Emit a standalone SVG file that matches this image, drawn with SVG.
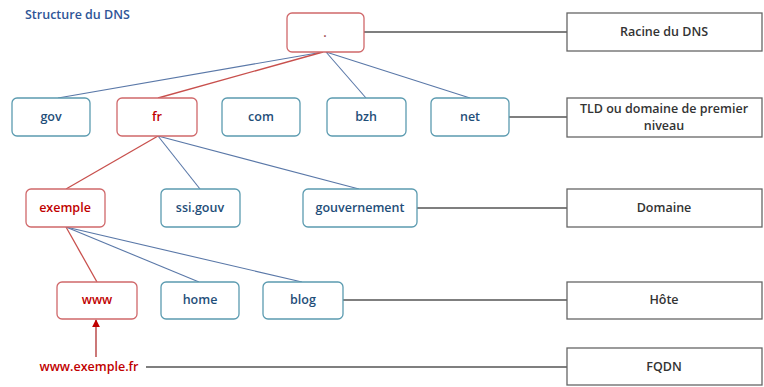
<svg xmlns="http://www.w3.org/2000/svg" width="764" height="387" viewBox="0 0 764 387">
<defs>
<style>
.nb{fill:#fff;stroke:#5b9bb0;stroke-width:1.3}
.nr{fill:#fff;stroke:#d0686a;stroke-width:1.3}
.lb{fill:#fff;stroke:#666;stroke-width:1.3}
.tb{font-family:"Open Sans","Liberation Sans",sans-serif;font-size:12.5px;font-weight:600;fill:#1f4e79;text-anchor:middle}
.tr{font-family:"Open Sans","Liberation Sans",sans-serif;font-size:12.5px;font-weight:600;fill:#c00000;text-anchor:middle}
.tl{font-family:"Open Sans","Liberation Sans",sans-serif;font-size:12.5px;font-weight:600;fill:#333;text-anchor:middle}
.cb{stroke:#5a78a8;stroke-width:1.1;fill:none}
.cr{stroke:#c8504d;stroke-width:1.3;fill:none}
.cg{stroke:#555;stroke-width:1.4;fill:none}
</style>
<marker id="ar" viewBox="0 0 10 10" refX="9" refY="5" markerWidth="6" markerHeight="6" orient="auto-start-reverse">
<path d="M0,0 L10,5 L0,10 z" fill="#c00000"/>
</marker>
</defs>
<rect width="764" height="387" fill="#fff"/>
<text x="25" y="19" font-family="'Open Sans','Liberation Sans',sans-serif" font-size="12.5" font-weight="600" fill="#2f5597">Structure du DNS</text>
<g id="connectors">
<line class="cg" x1="364" y1="32" x2="567" y2="32"/>
<line class="cg" x1="509" y1="117" x2="567" y2="117"/>
<line class="cg" x1="417" y1="208" x2="567" y2="208"/>
<line class="cg" x1="343" y1="300" x2="567" y2="300"/>
<line class="cg" x1="146" y1="367" x2="567" y2="367"/>
<line class="cb" x1="323" y1="52" x2="58" y2="98"/>
<line class="cr" x1="323" y1="52" x2="158" y2="98"/>
<line class="cb" x1="326" y1="52" x2="366" y2="98"/>
<line class="cb" x1="326" y1="52" x2="470" y2="98"/>
<line class="cr" x1="158" y1="136" x2="66" y2="189"/>
<line class="cb" x1="158" y1="136" x2="200" y2="189"/>
<line class="cb" x1="158" y1="136" x2="359" y2="189"/>
<line class="cr" x1="66" y1="227" x2="97" y2="282"/>
<line class="cb" x1="66" y1="227" x2="199" y2="282"/>
<line class="cb" x1="66" y1="227" x2="302" y2="282"/>
<line x1="96" y1="357" x2="96" y2="320" stroke="#b03030" stroke-width="1.3" marker-end="url(#ar)"/>
</g>
<g id="root"><rect class="nr" x="287" y="13" width="77" height="39" rx="5"/><text class="tr" x="325" y="37" style="fill:#a05050">.</text></g>
<g id="gov"><rect class="nb" x="12" y="98" width="78" height="38" rx="5"/><text class="tb" x="51" y="121">gov</text></g>
<g id="fr"><rect class="nr" x="117" y="98" width="80" height="38" rx="5"/><text class="tr" x="157" y="121">fr</text></g>
<g id="com"><rect class="nb" x="222" y="98" width="78" height="38" rx="5"/><text class="tb" x="261" y="121">com</text></g>
<g id="bzh"><rect class="nb" x="327" y="98" width="79" height="38" rx="5"/><text class="tb" x="366" y="121">bzh</text></g>
<g id="net"><rect class="nb" x="431" y="98" width="78" height="38" rx="5"/><text class="tb" x="470" y="121">net</text></g>
<g id="exemple"><rect class="nr" x="26" y="189" width="79" height="38" rx="5"/><text class="tr" x="65" y="212">exemple</text></g>
<g id="ssigouv"><rect class="nb" x="161" y="189" width="79" height="38" rx="5"/><text class="tb" x="200" y="212">ssi.gouv</text></g>
<g id="gouvernement"><rect class="nb" x="303" y="189" width="114" height="38" rx="5"/><text class="tb" x="360" y="212">gouvernement</text></g>
<g id="www"><rect class="nr" x="57" y="282" width="80" height="37" rx="5"/><text class="tr" x="97" y="304">www</text></g>
<g id="home"><rect class="nb" x="161" y="282" width="78" height="37" rx="5"/><text class="tb" x="200" y="304">home</text></g>
<g id="blog"><rect class="nb" x="263" y="282" width="80" height="37" rx="5"/><text class="tb" x="303" y="304">blog</text></g>
<g id="fqdn-text"><text class="tr" x="89" y="371">www.exemple.fr</text></g>
<g id="lbl-racine"><rect class="lb" x="567" y="13" width="195" height="38"/><text class="tl" x="664" y="36">Racine du DNS</text></g>
<g id="lbl-tld"><rect class="lb" x="567" y="98" width="195" height="39"/><text class="tl" x="664" y="113">TLD ou domaine de premier</text><text class="tl" x="664" y="130">niveau</text></g>
<g id="lbl-domaine"><rect class="lb" x="567" y="189" width="195" height="38"/><text class="tl" x="664" y="212">Domaine</text></g>
<g id="lbl-hote"><rect class="lb" x="567" y="282" width="195" height="37"/><text class="tl" x="664" y="304">Hôte</text></g>
<g id="lbl-fqdn"><rect class="lb" x="567" y="348" width="195" height="37"/><text class="tl" x="664" y="371">FQDN</text></g>
</svg>
